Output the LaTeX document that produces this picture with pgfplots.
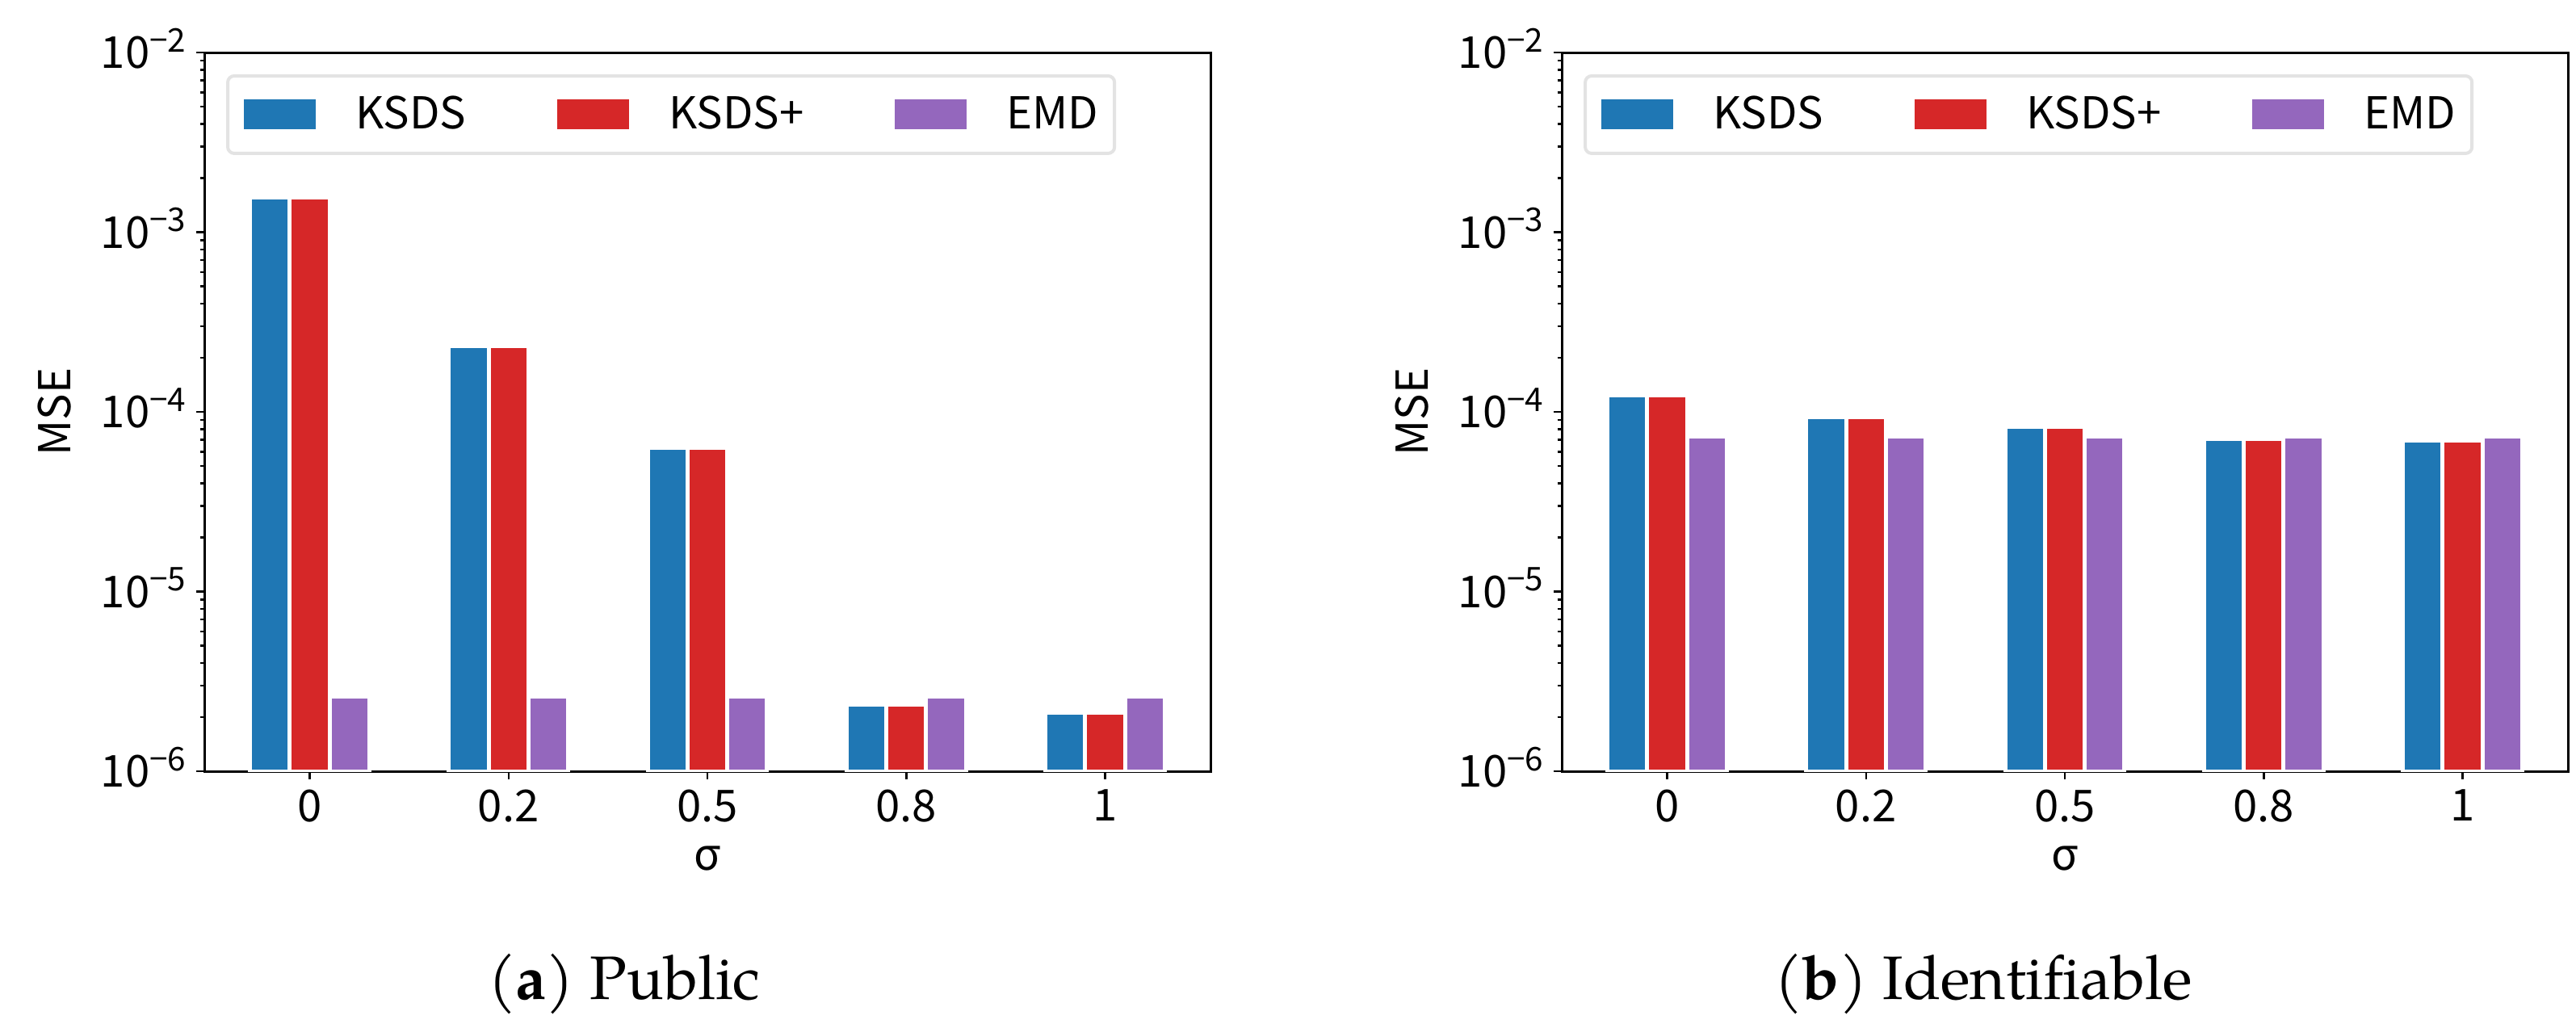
\documentclass[border=0pt]{standalone}
\usepackage{fontspec}
\setmainfont{Noto Sans CJK SC}
\newfontfamily\capfont{TeX Gyre Pagella}
\usepackage{pgfplots}
\pgfplotsset{compat=1.18}

\definecolor{cblue}{HTML}{1F77B4}
\definecolor{cred}{HTML}{D62728}
\definecolor{cpurple}{HTML}{9467BD}
\newcommand\ex[1]{\raisebox{0.37em}{\fontsize{11.5}{12}\selectfont #1}}
\newcommand\lab{\fontsize{15.5}{18}\selectfont}

\pgfplotsset{
  every axis/.append style={
    width=12.46cm, height=8.90cm, scale only axis,
    ymin=1e-6, ymax=1e-2,
    xmin=-0.53, xmax=4.53,
    xtick={0,1,2,3,4}, xticklabels={0,0.2,0.5,0.8,1},
    xtick pos=lower, ytick pos=left,
    tick align=outside,
    major tick length=0.1cm, minor tick length=0.055cm,
    tick style={black, line width=0.025cm},
    axis line style={line width=0.03cm},
    font=\lab,
    xticklabel style={inner sep=0pt, yshift=-0.12cm},
    yticklabel style={inner sep=0pt, anchor=base east, xshift=-0.12cm, yshift=-0.195cm},
    xlabel style={at={(axis description cs:0.5,-0.1213)}, anchor=center, inner sep=0pt},
    ylabel style={at={(axis description cs:-0.1485,0.5)}, anchor=center, inner sep=0pt},
    legend columns=3,
    legend style={at={(0.0217,0.9697)}, anchor=north west,
      draw=black!11, line width=0.04cm, rounded corners=0.08cm,
      inner xsep=0.2cm, inner ysep=0.25cm, font=\lab,
      nodes={inner sep=0pt},
      /tikz/every odd column/.style={column sep=0.49cm},
      /tikz/every even column/.style={column sep=1.13cm}},
  },
  legend image code/.code={\fill[#1, draw=none, sharp corners] (0cm,-0.185cm) rectangle (0.89cm,0.185cm);},
}

\begin{document}
\begin{tikzpicture}
\useasboundingbox (0,0) rectangle (31.90,12.67);

% (a) Public
\begin{axis}[at={(2.53cm,3.12cm)}, anchor=south west,
  ymode=log, log origin y=infty,
  ytick={1e-6,1e-5,1e-4,1e-3,1e-2},
  yticklabels={10\ex{−6},10\ex{−5},10\ex{−4},10\ex{−3},10\ex{−2}},
  minor ytick={2e-6,3e-6,4e-6,5e-6,6e-6,7e-6,8e-6,9e-6,2e-5,3e-5,4e-5,5e-5,6e-5,7e-5,8e-5,9e-5,2e-4,3e-4,4e-4,5e-4,6e-4,7e-4,8e-4,9e-4,2e-3,3e-3,4e-3,5e-3,6e-3,7e-3,8e-3,9e-3},
  xlabel={σ}, ylabel={MSE}]
  \addplot[ybar, bar width=0.2, bar shift=-0.2, fill=cblue, draw=white, line width=0.05cm]
    coordinates {(0,1.56e-3) (1,2.33e-4) (2,6.3e-5) (3,2.35e-6) (4,2.11e-6)};
  \addplot[ybar, bar width=0.2, bar shift=0, fill=cred, draw=white, line width=0.05cm]
    coordinates {(0,1.56e-3) (1,2.33e-4) (2,6.3e-5) (3,2.35e-6) (4,2.11e-6)};
  \addplot[ybar, bar width=0.2, bar shift=0.2, fill=cpurple, draw=white, line width=0.05cm]
    coordinates {(0,2.6e-6) (1,2.6e-6) (2,2.6e-6) (3,2.6e-6) (4,2.6e-6)};
  \legend{KSDS,KSDS+,EMD}
\end{axis}

% (b) Identifiable
\begin{axis}[at={(19.34cm,3.12cm)}, anchor=south west,
  ymode=log, log origin y=infty,
  ytick={1e-6,1e-5,1e-4,1e-3,1e-2},
  yticklabels={10\ex{−6},10\ex{−5},10\ex{−4},10\ex{−3},10\ex{−2}},
  minor ytick={2e-6,3e-6,4e-6,5e-6,6e-6,7e-6,8e-6,9e-6,2e-5,3e-5,4e-5,5e-5,6e-5,7e-5,8e-5,9e-5,2e-4,3e-4,4e-4,5e-4,6e-4,7e-4,8e-4,9e-4,2e-3,3e-3,4e-3,5e-3,6e-3,7e-3,8e-3,9e-3},
  xlabel={σ}, ylabel={MSE}]
  \addplot[ybar, bar width=0.2, bar shift=-0.2, fill=cblue, draw=white, line width=0.05cm]
    coordinates {(0,1.24e-4) (1,9.4e-5) (2,8.3e-5) (3,7.06e-5) (4,6.9e-5)};
  \addplot[ybar, bar width=0.2, bar shift=0, fill=cred, draw=white, line width=0.05cm]
    coordinates {(0,1.24e-4) (1,9.4e-5) (2,8.3e-5) (3,7.06e-5) (4,6.9e-5)};
  \addplot[ybar, bar width=0.2, bar shift=0.2, fill=cpurple, draw=white, line width=0.05cm]
    coordinates {(0,7.3e-5) (1,7.3e-5) (2,7.3e-5) (3,7.3e-5) (4,7.3e-5)};
  \legend{KSDS,KSDS+,EMD}
\end{axis}

\node[font=\capfont\fontsize{21.6}{24}\selectfont, anchor=base] at (7.73,0.30) {(\textbf{a}) Public};
\node[font=\capfont\fontsize{21.6}{24}\selectfont, anchor=base] at (24.56,0.30) {(\textbf{b}) Identifiable};
\end{tikzpicture}
\end{document}
